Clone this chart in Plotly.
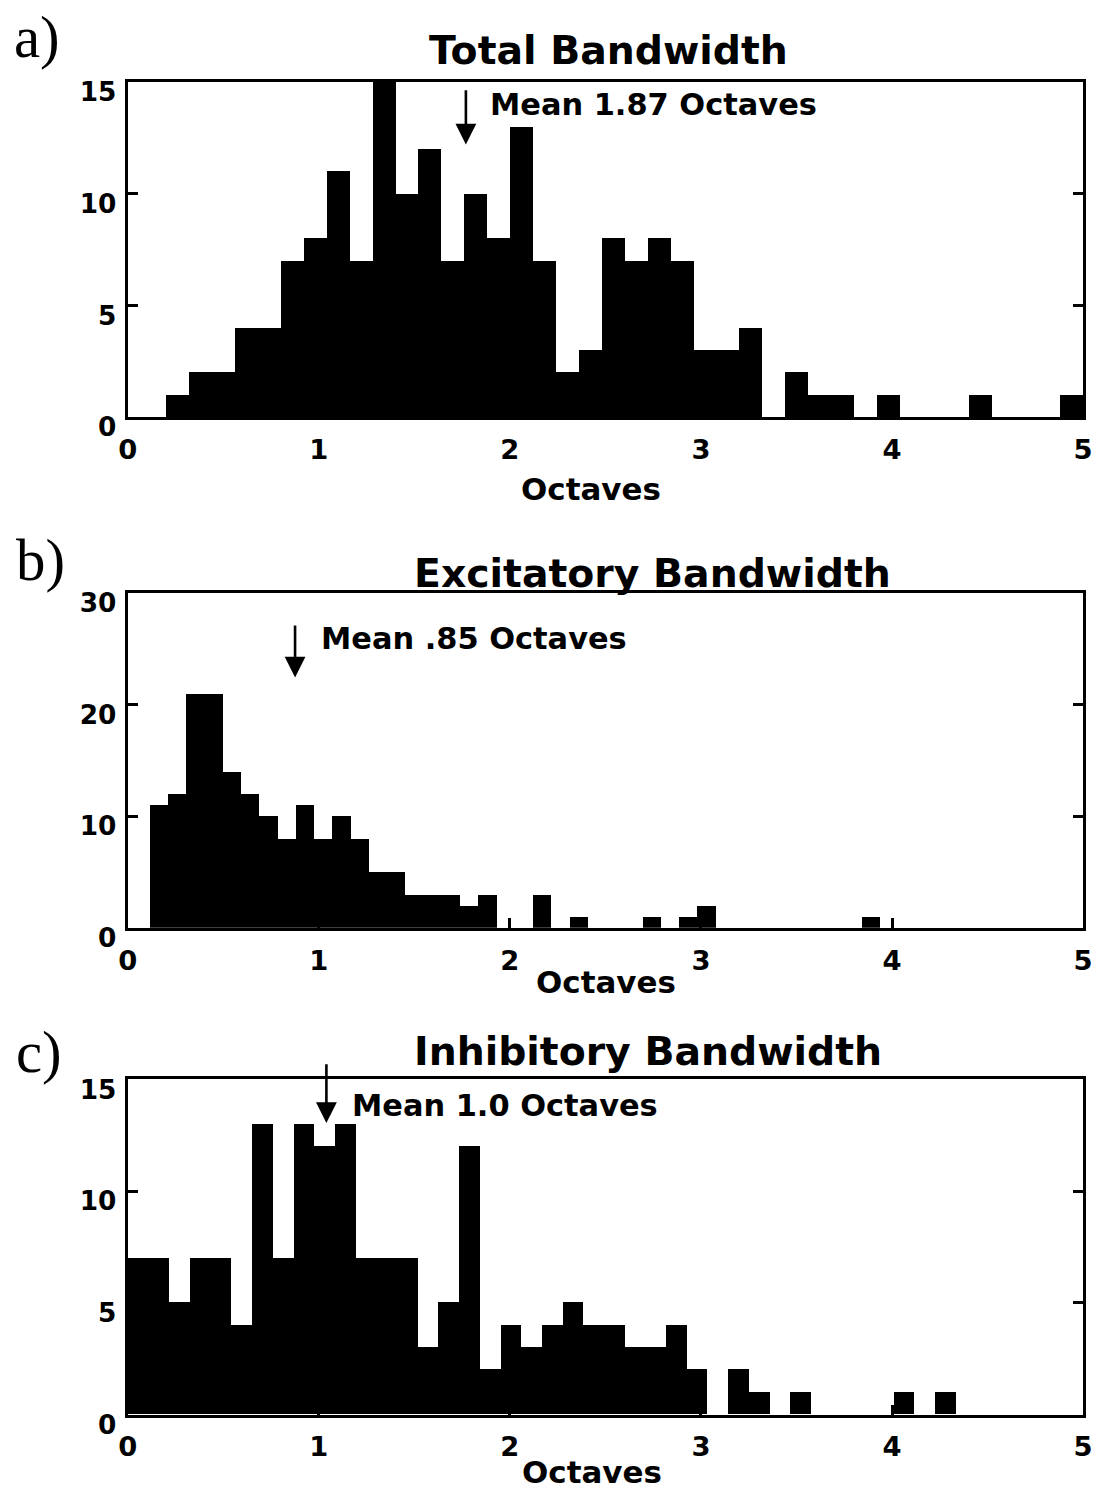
import plotly.graph_objects as go

# ---------------- data ----------------
# Panel a: Total bandwidth, 40 bins starting at 0.20 octaves, width 0.12
total_start = 0.20
total_width = 0.12
total_counts = [1, 2, 2, 4, 4, 7, 8, 11, 7, 15,
                10, 12, 7, 10, 8, 13, 7, 2, 3, 8,
                7, 8, 7, 3, 3, 4, 0, 2, 1, 1,
                0, 1, 0, 0, 0, 1, 0, 0, 0, 1]

# Panel b: Excitatory bandwidth, 40 bins starting at 0.115, width 0.0955
exc_start = 0.115
exc_width = 0.0955
exc_counts = [11, 12, 21, 21, 14, 12, 10, 8, 11, 8,
              10, 8, 5, 5, 3, 3, 3, 2, 3, 0,
              0, 3, 0, 1, 0, 0, 0, 1, 0, 1,
              2, 0, 0, 0, 0, 0, 0, 0, 0, 1]

# Panel c: Inhibitory bandwidth, 40 bins starting at 0, width 0.1083
inh_start = 0.0
inh_width = 0.1083
inh_counts = [7, 7, 5, 7, 7, 4, 13, 7, 13, 12,
              13, 7, 7, 7, 3, 5, 12, 2, 4, 3,
              4, 5, 4, 4, 3, 3, 4, 2, 0, 2,
              1, 0, 1, 0, 0, 0, 0, 1, 0, 1]

titles = ["Total Bandwidth", "Excitatory Bandwidth", "Inhibitory Bandwidth"]
panel_labels = ["a)", "b)", "c)"]
mean_texts = ["Mean 1.87 Octaves", "Mean .85 Octaves", "Mean 1.0 Octaves"]
x_title = "Octaves"
x_ticks = [0, 1, 2, 3, 4, 5]
y_ranges = [(0, 15), (0, 30), (0, 15)]
y_ticks = [[0, 5, 10, 15], [0, 10, 20, 30], [0, 5, 10, 15]]

# mean-arrow geometry in data units: (x, y_tail, y_head, text_x, text_y)
arrows = [(1.77, 14.7, 12.2, 1.885, 14.0),
          (0.876, 27.2, 22.4, 1.0, 25.9),
          (1.04, 15.75, 13.05, 1.165, 13.85)]

# ---------------- figure ----------------
# positions below are given in target-picture pixels and mapped to the
# figure's own pixels (page offset and capture scale measured in test runs)
OFF = 8
SX, SY = 0.9857, 0.9805
W, H = 1112, 1512
FONT = "DejaVu Sans"


def px(xr):
    return (xr / SX - OFF) / W


def py(yr, corr=True):
    if corr:
        yr = yr + 5.0 - 0.0022 * yr
    return 1 - (yr / SY - OFF) / H


def fs(size):
    return size / SX


fig = go.Figure()

series = [(total_start, total_width, total_counts),
          (exc_start, exc_width, exc_counts),
          (inh_start, inh_width, inh_counts)]

x_dom = [px(126), px(1085)]
y_px = [(80, 416), (592, 928), (1080, 1416)]

for i, (start, width, counts) in enumerate(series):
    centers = [start + width * (k + 0.5) for k in range(len(counts))]
    xa = "x" if i == 0 else f"x{i+1}"
    ya = "y" if i == 0 else f"y{i+1}"
    fig.add_trace(go.Bar(x=centers, y=counts, width=[width] * len(counts),
                         marker=dict(color="black", line=dict(width=0)),
                         xaxis=xa, yaxis=ya, showlegend=False,
                         hoverinfo="x+y"))
    top, bot = y_px[i]
    xkey = "xaxis" if i == 0 else f"xaxis{i+1}"
    ykey = "yaxis" if i == 0 else f"yaxis{i+1}"
    fig.layout[xkey] = dict(domain=x_dom, range=[0, 5], anchor=ya,
                            tickvals=x_ticks, ticks="inside", ticklen=10,
                            tickwidth=2.5, tickcolor="black",
                            showline=True, linecolor="black", linewidth=3,
                            mirror=True, showgrid=False, zeroline=False,
                            ticklabelstandoff=6,
                            tickfont=dict(family=FONT, size=fs(27), color="black",
                                          weight="bold"))
    fig.layout[ykey] = dict(domain=[py(bot), py(top)],
                            range=list(y_ranges[i]), anchor=xa,
                            tickvals=y_ticks[i], ticks="inside", ticklen=10,
                            tickwidth=2.5, tickcolor="black",
                            showline=True, linecolor="black", linewidth=3,
                            mirror="ticks", showgrid=False, zeroline=False,
                            ticklabelstandoff=3, ticklabelshift=10,
                            tickfont=dict(family=FONT, size=fs(26), color="black",
                                          weight="bold"))

annotations = []
title_pos = [(609, 48), (653, 572), (648, 1052)]
label_pos = [(35, 35), (39, 560), (37, 1053)]
xtitle_pos = [(591, 488), (606, 982), (592, 1475)]
for i in range(3):
    tx, ty = title_pos[i]
    annotations.append(dict(text=titles[i], x=px(tx), y=py(ty),
                            xref="paper", yref="paper", showarrow=False,
                            xanchor="center", yanchor="middle",
                            font=dict(family=FONT, size=fs(38.8), color="black",
                                      weight="bold")))
    lx, ly = label_pos[i]
    annotations.append(dict(text=panel_labels[i], x=px(lx), y=py(ly),
                            xref="paper", yref="paper", showarrow=False,
                            xanchor="center", yanchor="middle",
                            font=dict(family="Liberation Serif", size=fs(58),
                                      color="black")))
    ox, oy = xtitle_pos[i]
    # the lowest title is kept clear of the figure's bottom edge
    annotations.append(dict(text=x_title, x=px(ox), y=py(oy, corr=(i < 2)),
                            xref="paper", yref="paper", showarrow=False,
                            xanchor="center", yanchor="middle",
                            font=dict(family=FONT, size=fs(30.5), color="black",
                                      weight="bold")))
    ax_x, y_tail, y_head, t_x, t_y = arrows[i]
    xr = "x" if i == 0 else f"x{i+1}"
    yr = "y" if i == 0 else f"y{i+1}"
    annotations.append(dict(x=ax_x, y=y_head, ax=ax_x, ay=y_tail,
                            xref=xr, yref=yr, axref=xr, ayref=yr,
                            text="", showarrow=True, arrowhead=2,
                            arrowsize=1.6, arrowwidth=2.6, arrowcolor="black"))
    annotations.append(dict(text=mean_texts[i], x=t_x, y=t_y, xref=xr, yref=yr,
                            showarrow=False, xanchor="left", yanchor="middle",
                            font=dict(family=FONT, size=fs(30), color="black",
                                      weight="bold")))

fig.update_layout(width=W, height=H, margin=dict(l=0, r=0, t=0, b=0),
                  paper_bgcolor="white", plot_bgcolor="white",
                  bargap=0, barmode="overlay", annotations=annotations)

fig.write_html("out.html")
